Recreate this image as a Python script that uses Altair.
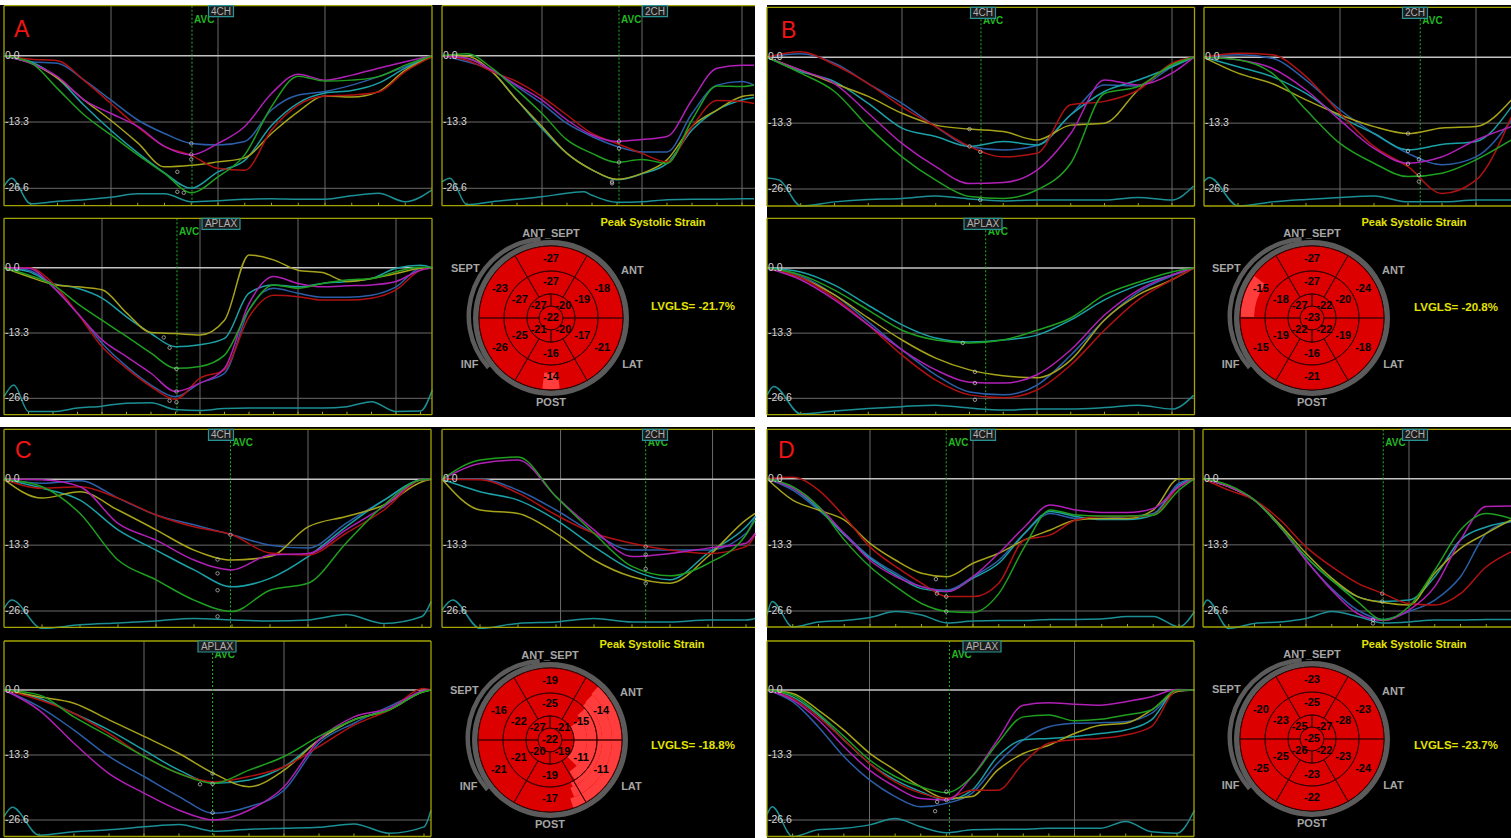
import math
import altair as alt
import pandas as pd

# ------------------------------------------------------------------ colours
CURVE_COLOURS = {
    "red": "#b01212",
    "green": "#1f9f1f",
    "magenta": "#b01fb6",
    "blue": "#2b5ea8",
    "teal": "#1aa0a6",
    "yellow": "#a6a31a",
}
CURVE_ORDER = ["blue", "teal", "yellow", "red", "magenta", "green"]
ECG_COLOUR = "#1b8f94"
FRAME_COLOUR = "#a5a400"
GRID_COLOUR = "#6a6a6a"
ZERO_COLOUR = "#c4c4c4"
LABEL_COLOUR = "#d4d4d4"
AVC_COLOUR = "#22b622"
BOX_EDGE = "#2a9494"
SEG_RED = "#dc0000"
SEG_LIGHT = "#ff3d3d"
SEG_LINE = "#3a0000"
RING_GREY = "#5b5b5b"
TITLE_YELLOW = "#e3e300"

Y_LEVELS = [0.0, -13.3, -26.6]
Y_LABELS = ["0.0", "-13.3", "-26.6"]

# ------------------------------------------------------------------ strain traces
# t is measured in grid divisions from the left edge of each trace window,
# strain values in %.
A4CH = {
    "t": [0, .25, .5, .75, 1, 1.25, 1.5, 1.75, 2, 2.25, 2.5, 2.75, 3, 3.25, 3.5, 3.75, 4],
    "red": [0, -0.7, -1.0, -5.0, -9.6, -14.3, -18.2, -20.0, -22.6, -23.0, -14.9, -9.9, -8.1, -7.9, -7.3, -3.2, -0.2],
    "green": [0, -1.4, -6.6, -11.9, -15.9, -19.9, -23.6, -27.5, -24.3, -19.9, -10.2, -4.1, -5.1, -4.9, -4.2, -1.9, 0],
    "teal": [0, -1.2, -4.5, -10.0, -15.0, -19.5, -23.5, -26.6, -23.3, -21.0, -14.0, -9.5, -7.5, -7.0, -5.5, -2.5, 0],
    "blue": [0, -1.2, -1.5, -4.9, -8.9, -12.9, -15.6, -17.6, -17.9, -17.2, -10.9, -7.9, -7.2, -5.9, -4.2, -2.2, 0],
    "magenta": [0, -1.5, -4.2, -8.9, -11.6, -14.2, -18.2, -19.9, -17.6, -14.2, -7.6, -3.7, -4.9, -3.9, -2.5, -1.2, 0],
    "yellow": [0, -1.5, -4.5, -8.9, -13.0, -17.5, -22.3, -22.0, -21.3, -20.5, -15.6, -11.2, -8.1, -8.3, -7.2, -2.9, -0.2],
    "ecg_t": [0, .07, .25, .5, .75, 1, 1.25, 1.5, 1.75, 2, 2.25, 2.5, 2.75, 3, 3.25, 3.5, 3.75, 4],
    "ecg": [-26.2, -24.6, -29.7, -29.2, -28.9, -28.4, -27.7, -27.7, -29.3, -29.1, -28.8, -28.7, -28.8, -28.8, -28.1, -27.6, -29.3, -26.9],
    "es_t": [1.75, 1.75, 1.75, 1.62, 1.62, 1.68],
    "es_s": [-17.6, -19.8, -20.8, -23.3, -27.3, -27.5],
}
A2CH = {
    "t": [0, .25, .5, .75, 1, 1.25, 1.5, 1.75, 2, 2.25, 2.5, 2.75, 3, 3.12],
    "red": [0, -0.9, -3.2, -5.2, -8.2, -11.9, -15.6, -17.6, -19.6, -21.3, -14.2, -9.0, -9.2, -9.6],
    "green": [0, 0.4, -2.5, -6.9, -11.6, -16.9, -19.6, -21.4, -20.8, -21.6, -12.9, -6.1, -6.2, -5.9],
    "teal": [0, -0.5, -3.2, -8.9, -14.6, -19.6, -22.9, -24.9, -23.7, -21.6, -14.9, -10.9, -8.9, -8.4],
    "blue": [0, -1.2, -2.9, -6.2, -9.6, -13.6, -16.2, -18.2, -19.3, -19.3, -11.6, -5.9, -5.2, -5.9],
    "magenta": [0, -0.5, -2.9, -5.9, -8.9, -12.9, -15.9, -17.2, -16.8, -16.2, -8.9, -2.5, -1.9, -1.9],
    "yellow": [0, -0.1, -3.2, -8.9, -14.2, -19.6, -22.9, -24.8, -23.6, -20.9, -14.2, -10.9, -8.2, -7.9],
    "ecg_t": [0, .08, .25, .5, .75, 1, 1.25, 1.42, 1.5, 1.75, 2, 2.25, 2.5, 2.75, 3, 3.12],
    "ecg": [-25.3, -24.6, -29.9, -29.3, -28.8, -28.3, -27.6, -27.3, -28.0, -29.4, -29.3, -28.9, -28.8, -28.8, -28.7, -28.7],
    "es_t": [1.77, 1.77, 1.77, 1.70, 1.70],
    "es_s": [-17.2, -18.6, -21.4, -25.3, -25.6],
}
AAPLAX = {
    "t": [0, .25, .5, .75, 1, 1.25, 1.5, 1.75, 2, 2.25, 2.5, 2.75, 3, 3.25, 3.5, 3.75, 4, 4.25, 4.37],
    "yellow": [0, -1.8, -3.4, -3.9, -4.5, -9.2, -13.2, -13.4, -13.7, -10.7, 2.6, 1.6, -0.5, -1.0, -2.8, -2.2, -1.2, -0.1, 0],
    "teal": [0, -0.8, -3.2, -4.2, -6.2, -10.0, -13.4, -16.1, -15.7, -14.4, -5.2, -3.5, -3.9, -3.2, -2.8, -2.2, -0.1, 0.5, 0],
    "green": [0, -1.5, -3.5, -7.3, -10.7, -14.0, -17.4, -20.5, -20.1, -17.8, -8.6, -3.5, -4.2, -3.2, -2.5, -2.2, -0.8, 0.1, 0],
    "magenta": [0, -0.1, -3.9, -9.3, -14.7, -18.1, -21.5, -25.2, -23.5, -20.5, -7.3, -1.8, -3.2, -3.9, -3.7, -3.5, -2.8, -0.5, 0],
    "red": [0, 0, -3.2, -9.3, -16.1, -20.5, -24.2, -26.8, -22.5, -20.8, -10.0, -5.6, -5.9, -6.6, -6.6, -6.2, -4.5, -0.5, 0],
    "blue": [0, -0.5, -3.9, -9.3, -15.4, -20.1, -23.9, -26.3, -23.5, -21.5, -8.6, -4.2, -5.2, -6.0, -6.0, -5.6, -3.9, -0.1, 0],
    "ecg_t": [0, .1, .25, .5, .75, 1, 1.25, 1.5, 1.75, 2, 2.25, 2.5, 2.75, 3, 3.25, 3.5, 3.75, 4, 4.25, 4.37],
    "ecg": [-26.3, -23.9, -29.3, -29.3, -28.6, -28.2, -27.6, -27.5, -28.9, -29.1, -28.7, -28.6, -28.6, -28.6, -28.6, -28.3, -27.3, -29.3, -29.2, -24.9],
    "es_t": [1.63, 1.69, 1.76, 1.76, 1.69, 1.76],
    "es_s": [-14.2, -16.3, -20.6, -25.2, -27.1, -27.4],
}
B4CH = {
    "t": [0, .25, .5, .75, 1, 1.25, 1.5, 1.75, 2, 2.25, 2.5, 2.75, 3, 3.16],
    "red": [0, 1.1, -1.5, -5.3, -10.0, -14.0, -18.0, -20.1, -19.4, -9.6, -8.9, -6.6, -1.2, 0],
    "blue": [0, 0.7, -1.2, -5.3, -9.3, -14.0, -18.0, -18.7, -17.8, -11.6, -5.6, -5.8, -1.9, 0],
    "yellow": [0, -2.6, -5.3, -7.9, -11.3, -13.7, -14.5, -15.0, -16.7, -13.7, -13.3, -6.6, -1.5, 0],
    "teal": [0, -2.9, -4.9, -9.3, -14.3, -16.0, -18.0, -17.0, -17.7, -11.6, -6.9, -4.6, -1.9, 0],
    "magenta": [0, -2.6, -5.3, -11.3, -17.4, -22.1, -25.5, -25.3, -22.8, -15.4, -4.6, -5.6, -3.2, 0],
    "green": [0, -3.2, -6.9, -14.0, -20.1, -24.8, -28.1, -28.5, -26.8, -21.4, -7.3, -5.9, -1.5, 0],
    "ecg_t": [0, .09, .25, .5, .75, 1, 1.25, 1.5, 1.75, 2, 2.25, 2.5, 2.75, 3, 3.16],
    "ecg": [-24.4, -24.8, -30.0, -29.2, -28.7, -28.5, -28.0, -28.6, -29.0, -28.8, -28.8, -28.8, -28.3, -28.8, -26.0],
    "es_t": [1.50, 1.50, 1.58, 1.58],
    "es_s": [-14.5, -18.0, -19.1, -28.8],
}
B2CH = {
    "t": [0, .25, .5, .75, 1, 1.25, 1.5, 1.75, 2, 2.26],
    "red": [0, 0.8, 0.5, -3.9, -11.3, -18.0, -22.1, -27.5, -24.8, -12.0],
    "blue": [0, 0.5, -0.2, -4.6, -10.6, -15.4, -19.4, -21.7, -20.1, -12.7],
    "magenta": [0, -0.5, -2.2, -6.6, -12.7, -18.4, -21.4, -20.1, -16.7, -14.0],
    "teal": [0, -1.9, -3.9, -7.3, -12.0, -15.4, -18.7, -17.6, -17.0, -10.0],
    "yellow": [0, -3.2, -5.3, -8.6, -11.6, -14.0, -15.4, -14.3, -14.0, -8.6],
    "green": [0, -0.5, -3.2, -10.6, -17.4, -21.4, -24.1, -23.4, -20.7, -16.7],
    "ecg_t": [0, .04, .25, .5, .75, 1, 1.25, 1.5, 1.75, 2, 2.26],
    "ecg": [-25.1, -24.3, -30.0, -29.2, -28.7, -28.3, -28.0, -29.2, -29.2, -28.8, -28.8],
    "es_t": [1.5, 1.5, 1.58, 1.5, 1.58, 1.58],
    "es_s": [-15.4, -18.9, -20.6, -21.5, -23.8, -25.1],
}
BAPLAX = {
    "t": [0, .25, .5, .75, 1, 1.25, 1.5, 1.75, 2, 2.25, 2.5, 2.75, 3, 3.16],
    "teal": [0, -0.8, -3.5, -7.6, -11.6, -14.3, -15.1, -14.7, -13.7, -10.6, -6.5, -3.5, -1.4, 0],
    "green": [0, -1.4, -4.5, -8.6, -12.7, -14.7, -15.3, -14.7, -12.7, -10.2, -5.5, -2.9, -0.8, 0],
    "yellow": [0, -2.0, -5.5, -10.2, -14.7, -18.4, -20.8, -22.0, -22.4, -18.8, -10.6, -5.5, -2.4, 0],
    "magenta": [0, -2.4, -6.5, -11.6, -16.7, -20.8, -23.3, -23.5, -21.8, -16.7, -9.6, -4.5, -1.4, 0],
    "red": [0, -2.0, -6.1, -11.6, -17.8, -22.9, -25.9, -26.5, -24.9, -19.8, -12.7, -6.5, -2.4, 0],
    "blue": [0, -1.6, -5.5, -11.0, -16.7, -21.8, -25.3, -25.9, -23.9, -17.8, -10.6, -4.9, -1.6, 0],
    "ecg_t": [0, .05, .25, .5, .75, 1, 1.25, 1.5, 1.75, 2, 2.25, 2.5, 2.75, 3, 3.16],
    "ecg": [-26.0, -24.2, -29.8, -29.2, -28.7, -28.3, -28.0, -28.6, -29.0, -28.8, -28.8, -28.5, -28.0, -28.8, -26.0],
    "es_t": [1.45, 1.54, 1.54, 1.54],
    "es_s": [-15.3, -21.2, -23.5, -26.9],
}
C4CH = {
    "t": [0, .25, .5, .75, 1, 1.25, 1.5, 1.75, 2, 2.25, 2.5, 2.75, 2.81],
    "blue": [0, -0.8, -0.3, -3.8, -7.2, -9.2, -11.2, -13.3, -13.9, -8.9, -4.2, -0.1, 0],
    "red": [0, -1.8, -1.5, -3.8, -7.2, -9.6, -11.2, -14.9, -15.3, -10.9, -6.2, -0.1, 0],
    "magenta": [0, -0.1, -1.5, -8.9, -12.3, -16.3, -18.3, -15.3, -15.0, -10.2, -5.5, -0.1, 0],
    "yellow": [0, -3.8, -2.5, -6.2, -10.2, -14.3, -16.3, -15.6, -9.6, -7.5, -5.2, -0.5, 0],
    "teal": [0, -1.8, -4.2, -10.2, -14.3, -18.3, -21.7, -20.0, -15.6, -9.6, -4.2, -0.1, 0],
    "green": [0, -1.5, -6.9, -16.3, -20.3, -24.4, -26.7, -22.4, -21.0, -12.9, -5.2, -0.1, 0],
    "ecg_t": [0, .05, .25, .5, .75, 1, 1.25, 1.5, 1.75, 2, 2.25, 2.5, 2.75, 2.81],
    "ecg": [-26.1, -24.4, -30.1, -29.4, -29.0, -28.6, -28.1, -28.4, -28.6, -28.4, -27.3, -29.1, -27.7, -24.7],
    "es_t": [1.49, 1.405, 1.405, 1.405, 1.405],
    "es_s": [-11.2, -16.2, -19.0, -22.4, -27.7],
}
C2CH = {
    "t": [0, .25, .5, .75, 1, 1.25, 1.5, 1.75, 2, 2.06],
    "green": [0, 3.9, 4.5, -3.5, -10.9, -17.6, -19.5, -17.0, -11.2, -8.2],
    "magenta": [0, 3.2, 3.9, -3.5, -10.2, -15.6, -15.0, -13.9, -12.9, -10.9],
    "red": [0, -0.1, -2.8, -7.2, -10.9, -12.9, -14.3, -15.0, -13.6, -11.2],
    "blue": [0, 0, -2.2, -6.2, -10.9, -14.3, -14.3, -14.3, -10.9, -7.5],
    "teal": [0, -2.5, -4.2, -8.2, -13.6, -18.3, -20.3, -14.9, -9.6, -7.5],
    "yellow": [0, -6.2, -6.9, -10.9, -16.3, -19.7, -21.0, -15.6, -8.2, -6.9],
    "ecg_t": [0, .07, .25, .5, .75, 1, 1.25, 1.5, 1.75, 2, 2.06],
    "ecg": [-26.4, -24.4, -30.1, -29.1, -28.8, -28.1, -28.8, -28.8, -28.4, -28.4, -28.1],
    "es_t": [1.34, 1.34, 1.34, 1.34],
    "es_s": [-13.6, -15.2, -18.1, -21.0],
}
CAPLAX = {
    "t": [0, .25, .5, .75, 1, 1.25, 1.5, 1.75, 2, 2.25, 2.5, 2.75, 3, 3.05],
    "yellow": [0, -1.4, -2.7, -6.1, -9.5, -13.0, -17.1, -19.8, -16.4, -10.2, -6.1, -4.1, -0.3, 0],
    "green": [0, -1.0, -5.5, -9.5, -13.6, -17.1, -19.1, -16.4, -13.6, -9.5, -6.1, -4.1, -0.3, 0],
    "teal": [0, -1.7, -4.8, -8.2, -12.3, -16.4, -19.1, -18.4, -15.7, -10.2, -6.1, -4.1, -0.3, 0],
    "red": [0, -2.0, -4.8, -8.9, -13.6, -17.1, -18.8, -17.7, -15.7, -11.6, -7.2, -4.1, 0.3, 0],
    "blue": [0, -3.4, -8.2, -13.6, -17.7, -21.8, -25.2, -23.9, -20.5, -10.9, -6.8, -3.4, -0.3, 0],
    "magenta": [0, -4.1, -10.9, -17.1, -21.1, -24.6, -26.6, -24.6, -19.8, -10.2, -5.5, -3.8, -0.1, 0],
    "ecg_t": [0, .06, .25, .5, .75, 1, 1.25, 1.5, 1.75, 2, 2.25, 2.5, 2.75, 3, 3.05],
    "ecg": [-25.9, -24.0, -29.7, -29.0, -28.6, -28.0, -27.5, -28.9, -28.5, -28.3, -28.1, -27.4, -29.3, -28.0, -24.6],
    "es_t": [1.49, 1.40, 1.49, 1.49],
    "es_s": [-17.1, -19.3, -19.2, -25.1],
}
D4CH = {
    "t": [0, .25, .5, .75, 1, 1.25, 1.5, 1.75, 2, 2.25, 2.5, 2.75, 3, 3.25, 3.5, 3.75, 4, 4.15],
    "red": [0, 0.3, -2.3, -7.6, -13.7, -17.7, -21.0, -23.7, -23.7, -21.0, -12.3, -11.3, -8.3, -7.6, -7.6, -7.3, -1.6, 0],
    "green": [0, -1.6, -5.6, -12.3, -17.7, -21.7, -25.1, -26.7, -26.9, -23.1, -13.7, -6.3, -7.3, -7.5, -7.5, -7.3, -2.3, 0],
    "yellow": [0, -4.3, -6.3, -8.3, -13.0, -16.4, -19.0, -19.7, -17.0, -15.0, -12.3, -10.3, -8.3, -8.0, -8.0, -6.3, 0, 0],
    "blue": [0, -2.3, -6.3, -11.0, -15.7, -19.0, -21.7, -22.4, -19.7, -16.4, -11.0, -7.0, -8.0, -8.0, -7.6, -7.0, -0.9, 0],
    "magenta": [0, -1.9, -5.6, -11.0, -16.4, -19.7, -21.7, -22.7, -19.7, -15.0, -9.7, -5.3, -6.3, -6.8, -6.8, -6.0, -1.6, 0],
    "teal": [0, -1.9, -6.0, -11.3, -16.0, -19.4, -22.1, -22.7, -20.0, -17.0, -11.0, -6.6, -7.6, -8.2, -8.2, -7.3, -1.3, 0],
    "ecg_t": [0, .05, .25, .5, .75, 1, 1.25, 1.5, 1.75, 2, 2.25, 2.5, 2.75, 3, 3.25, 3.5, 3.75, 4, 4.15],
    "ecg": [-27.4, -24.7, -29.8, -28.8, -28.5, -27.9, -26.7, -27.4, -29.0, -28.6, -28.5, -28.5, -28.3, -28.3, -28.2, -27.7, -27.7, -29.8, -26.7],
    "es_t": [1.64, 1.65, 1.74, 1.74],
    "es_s": [-20.2, -23.1, -23.7, -26.7],
}
D2CH = {
    "t": [0, .25, .5, .75, 1, 1.25, 1.5, 1.75, 2, 2.25, 2.5, 2.75, 2.99],
    "red": [0, -2.3, -4.3, -8.3, -13.7, -17.7, -21.0, -23.1, -25.1, -25.4, -23.1, -17.7, -14.7],
    "green": [0, -1.3, -4.3, -9.7, -15.7, -20.4, -24.7, -28.4, -25.7, -18.4, -10.3, -7.0, -8.0],
    "magenta": [0, -1.6, -4.3, -9.7, -16.4, -22.4, -27.1, -28.5, -26.4, -21.7, -12.3, -5.6, -5.5],
    "blue": [0, -1.6, -4.3, -9.7, -16.4, -22.1, -26.4, -28.3, -26.7, -24.4, -19.7, -11.0, -8.6],
    "teal": [0, -1.6, -4.3, -9.7, -15.7, -20.4, -23.7, -24.7, -24.4, -19.7, -12.3, -9.7, -8.6],
    "yellow": [0, -1.6, -4.3, -9.3, -15.0, -20.0, -23.7, -24.9, -25.4, -19.0, -14.0, -11.0, -8.3],
    "ecg_t": [0, .04, .25, .5, .75, 1, 1.25, 1.5, 1.75, 2, 2.25, 2.5, 2.75, 2.99],
    "ecg": [-25.7, -24.4, -30.1, -29.1, -28.8, -28.1, -26.7, -27.7, -29.0, -28.8, -28.4, -28.4, -28.3, -28.3],
    "es_t": [1.74, 1.74, 1.65, 1.65],
    "es_s": [-23.1, -24.7, -28.4, -29.1],
}
DAPLAX = {
    "t": [0, .25, .5, .75, 1, 1.25, 1.5, 1.75, 2, 2.25, 2.5, 2.75, 3, 3.25, 3.5, 3.75, 4, 4.17],
    "yellow": [0, -0.7, -4.1, -8.2, -12.9, -16.4, -19.8, -22.2, -21.8, -16.4, -13.0, -11.3, -8.9, -7.2, -6.8, -4.1, -0.3, 0],
    "green": [0, -1.0, -4.8, -9.5, -14.3, -17.7, -19.8, -21.0, -17.7, -10.9, -5.5, -5.1, -6.3, -6.0, -5.1, -4.1, 0, 0],
    "magenta": [0, -2.0, -6.1, -11.6, -16.4, -19.8, -22.2, -22.5, -17.7, -10.2, -3.1, -2.6, -2.9, -3.1, -2.4, -1.4, 0.1, 0],
    "blue": [0, -2.4, -7.5, -13.6, -18.4, -21.8, -23.9, -23.2, -21.1, -15.0, -10.2, -7.5, -6.8, -6.7, -6.5, -4.8, -0.3, 0],
    "teal": [0, -1.4, -5.1, -10.2, -15.0, -18.4, -20.8, -22.5, -20.5, -13.6, -10.2, -9.9, -9.5, -8.9, -8.2, -6.1, -0.1, 0],
    "red": [0, -1.7, -5.5, -10.2, -15.0, -18.8, -21.1, -22.2, -20.5, -20.5, -15.0, -10.9, -10.2, -9.9, -9.2, -7.5, -0.1, 0],
    "ecg_t": [0, .05, .25, .5, .75, 1, 1.25, 1.5, 1.75, 2, 2.25, 2.5, 2.75, 3, 3.25, 3.5, 3.75, 4, 4.17],
    "ecg": [-25.5, -23.9, -30.0, -28.6, -28.3, -27.6, -26.3, -28.0, -29.2, -28.6, -28.5, -28.5, -28.3, -28.3, -28.3, -26.9, -29.0, -29.3, -24.6],
    "es_t": [1.75, 1.75, 1.66, 1.64],
    "es_s": [-20.8, -22.5, -22.9, -24.8],
}

# ------------------------------------------------------------------ bullseye values
# basal / mid rings run clockwise from ANT_SEPT; apical ring clockwise from upper right
BULL_A = {"basal": [-27, -18, -21, -14, -26, -23], "mid": [-27, -19, -17, -16, -25, -27],
          "apical": [-20, -20, -21, -27], "apex": -22, "gls": "-21.7"}
BULL_B = {"basal": [-27, -24, -18, -21, -15, -15], "mid": [-27, -20, -19, -16, -19, -18],
          "apical": [-22, -22, -22, -27], "apex": -23, "gls": "-20.8"}
BULL_C = {"basal": [-19, -14, -11, -17, -21, -16], "mid": [-25, -15, -11, -19, -21, -22],
          "apical": [-21, -19, -20, -27], "apex": -22, "gls": "-18.8"}
BULL_D = {"basal": [-23, -23, -24, -22, -25, -20], "mid": [-25, -28, -23, -23, -25, -23],
          "apical": [-27, -22, -26, -25], "apex": -25, "gls": "-23.7"}
WALL_NAMES = ["ANT_SEPT", "ANT", "LAT", "POST", "INF", "SEPT"]

# ------------------------------------------------------------------ page layout (pixels)
TRACE_GEOM = {
    "A4CH": dict(left=4, right=432, unit=107, top=5.7, bottom=205.7, y0=55.7, y26=188.3,
                 grid=[1, 2, 3], avc=1.757, box=221, label="4CH", right_edge=True),
    "A2CH": dict(left=442, right=755, unit=100, top=5.7, bottom=205.7, y0=55.7, y26=188.3,
                 grid=[1, 2, 3], avc=1.77, box=655, label="2CH", right_edge=False),
    "AAPLAX": dict(left=4, right=432, unit=98, top=218.3, bottom=414.7, y0=267.7, y26=398.3,
                   grid=[1, 2, 3, 4], avc=1.765, box=221, label="APLAX", right_edge=True),
    "B4CH": dict(left=767, right=1194.5, unit=135, top=7.3, bottom=206, y0=57.3, y26=189,
                 grid=[1, 2, 3], avc=1.585, box=983, label="4CH", right_edge=True),
    "B2CH": dict(left=1204, right=1511, unit=136, top=7.3, bottom=206, y0=57.3, y26=189,
                 grid=[1, 2], avc=1.59, box=1415, label="2CH", right_edge=False),
    "BAPLAX": dict(left=767, right=1194.5, unit=135, top=218.3, bottom=414.7, y0=268, y26=398.3,
                   grid=[1, 2, 3], avc=1.62, box=983, label="APLAX", right_edge=True),
    "C4CH": dict(left=4, right=431, unit=152, top=429.3, bottom=627.3, y0=479.3, y26=611,
                 grid=[1, 2], avc=1.49, box=221, label="4CH", right_edge=True),
    "C2CH": dict(left=442, right=755, unit=152, top=429.3, bottom=627.3, y0=479.3, y26=611,
                 grid=[0.78, 1.78], avc=1.34, box=655, label="2CH", right_edge=False),
    "CAPLAX": dict(left=4, right=431, unit=140, top=641, bottom=836.5, y0=690, y26=820,
                   grid=[1, 2], avc=1.49, box=217, label="APLAX", right_edge=True),
    "D4CH": dict(left=767, right=1194, unit=103, top=429.3, bottom=627, y0=478.7, y26=611,
                 grid=[1, 2, 3, 4], avc=1.74, box=983, label="4CH", right_edge=True),
    "D2CH": dict(left=1203, right=1511, unit=103, top=429.3, bottom=627, y0=478.7, y26=611,
                 grid=[1, 2], avc=1.75, box=1415, label="2CH", right_edge=False),
    "DAPLAX": dict(left=767, right=1194, unit=102.5, top=641, bottom=836.5, y0=690, y26=820,
                   grid=[1, 3], avc=1.78, box=982, label="APLAX", right_edge=True),
}
TRACES = {"A4CH": A4CH, "A2CH": A2CH, "AAPLAX": AAPLAX, "B4CH": B4CH, "B2CH": B2CH, "BAPLAX": BAPLAX,
          "C4CH": C4CH, "C2CH": C2CH, "CAPLAX": CAPLAX, "D4CH": D4CH, "D2CH": D2CH, "DAPLAX": DAPLAX}

PANELS = {
    "A": dict(x0=0, x1=755, y0=5, y1=417, cx=551, cy=318, title=(653, 223), gls=(693, 307), letter=(14, 37), bull=BULL_A),
    "B": dict(x0=767, x1=1511, y0=5, y1=417, cx=1312, cy=318, title=(1414, 223), gls=(1456, 308), letter=(781, 38), bull=BULL_B),
    "C": dict(x0=0, x1=755, y0=427, y1=838, cx=550, cy=740, title=(652, 645), gls=(693, 746), letter=(15, 458), bull=BULL_C),
    "D": dict(x0=767, x1=1511, y0=427, y1=838, cx=1312, cy=739, title=(1414, 645), gls=(1456, 746), letter=(778, 458), bull=BULL_D),
}
# paler patches inside the bullseye: (theta from, theta to, inner r, outer r)
PALE_PATCHES = {
    "A": [(173, 187, 55, 71)],
    "B": [(271, 306, 58, 71.5)],
    "C": [(42, 161, 62, 72), (43, 157, 52, 62), (44, 154, 47, 52), (48, 148, 37, 47), (57, 134, 24, 37)],
    "D": [],
}
WALL_LABEL_R = [84, 94, 94, 85, 94, 99]

ONE = pd.DataFrame({"k": [0]})
CURVE_SCALE = alt.Scale(domain=list(CURVE_COLOURS), range=list(CURVE_COLOURS.values()))
THETA = alt.Scale(domain=[0, 360], range=[0, 2 * math.pi])
RADIUS = alt.Scale(type="linear", domain=[0, 100], range=[0, 100], zero=True, nice=False)


def trace_chart(d, g):
    left, right, top, bottom = g["left"], g["right"], g["top"], g["bottom"]
    xs = alt.Scale(domain=[0, 1], range=[left, left + g["unit"]], nice=False, zero=False)
    ys = alt.Scale(domain=[-26.6, 0], range=[g["y26"], g["y0"]], nice=False, zero=False)

    def X(f):
        return alt.X(f"{f}:Q", scale=xs, axis=None)

    def Y(f):
        return alt.Y(f"{f}:Q", scale=ys, axis=None)

    def edge(x, x2, y, y2):
        return alt.Chart(ONE).mark_rule(color=FRAME_COLOUR, strokeWidth=1.3).encode(
            x=alt.value(x), x2=alt.value(x2), y=alt.value(y), y2=alt.value(y2))

    edges = [edge(left, right, top, top), edge(left, right, bottom, bottom), edge(left, left, top, bottom)]
    if g["right_edge"]:
        edges.append(edge(right, right, top, bottom))

    vgrid = alt.Chart(pd.DataFrame({"t": g["grid"]})).mark_rule(color=GRID_COLOUR, strokeWidth=1).encode(
        x=X("t"), y=alt.value(top), y2=alt.value(bottom))
    levels = pd.DataFrame({"s": Y_LEVELS, "lab": Y_LABELS})
    hgrid = alt.Chart(levels).mark_rule().encode(
        y=Y("s"), x=alt.value(left), x2=alt.value(right),
        color=alt.condition("datum.s == 0", alt.value(ZERO_COLOUR), alt.value(GRID_COLOUR)),
        strokeWidth=alt.condition("datum.s == 0", alt.value(1.6), alt.value(1.0)))
    ylabels = alt.Chart(levels).mark_text(align="left", baseline="middle", fontSize=10.5, color=LABEL_COLOUR).encode(
        x=alt.value(left + 1), y=Y("s"), text="lab:N")
    ticks = alt.Chart(pd.DataFrame({"t": d["t"][1:-1]})).mark_rule(color=FRAME_COLOUR, strokeWidth=1).encode(
        x=X("t"), y=alt.value(bottom - 3), y2=alt.value(bottom))

    avc = pd.DataFrame({"t": [g["avc"]]})
    avc_line = alt.Chart(avc).mark_rule(color=AVC_COLOUR, strokeDash=[2, 2], strokeWidth=1).encode(
        x=X("t"), y=alt.value(top), y2=alt.value(bottom))
    avc_text = alt.Chart(avc).mark_text(text="AVC", align="left", baseline="middle", dx=2, fontSize=10,
                                        fontWeight="bold", color=AVC_COLOUR).encode(
        x=X("t"), y=alt.value(top + 14))

    ecg = alt.Chart(pd.DataFrame({"t": d["ecg_t"], "s": d["ecg"]})).mark_line(
        color=ECG_COLOUR, strokeWidth=1.5, interpolate="monotone").encode(x=X("t"), y=Y("s"))

    rows = [(t, s, c) for c in CURVE_ORDER for t, s in zip(d["t"], d[c])]
    curves = alt.Chart(pd.DataFrame(rows, columns=["t", "s", "c"])).mark_line(
        strokeWidth=1.5, interpolate="monotone").encode(
        x=X("t"), y=Y("s"), color=alt.Color("c:N", scale=CURVE_SCALE, legend=None))

    es = alt.Chart(pd.DataFrame({"t": d["es_t"], "s": d["es_s"]})).mark_point(
        shape="circle", size=12, filled=False, color="#d6d6d6", strokeWidth=1).encode(x=X("t"), y=Y("s"))

    w = 38 if g["label"] == "APLAX" else 25
    box = alt.Chart(ONE).mark_rect(fill="#1c1c1c", stroke=BOX_EDGE, strokeWidth=1.2).encode(
        x=alt.value(g["box"] - w / 2), x2=alt.value(g["box"] + w / 2), y=alt.value(top), y2=alt.value(top + 11))
    box_text = alt.Chart(ONE).mark_text(text=g["label"], fontSize=10, color="#b2b2b2", baseline="middle").encode(
        x=alt.value(g["box"]), y=alt.value(top + 6))

    return alt.layer(vgrid, hgrid, ticks, avc_line, ecg, curves, es, ylabels, avc_text,
                     *edges, box, box_text)


def arc_layer(df, cx, cy, **mark):
    return alt.Chart(df).mark_arc(**mark).encode(
        theta=alt.Theta("a0:Q", scale=THETA, stack=False),
        theta2="a1:Q",
        radius=alt.Radius("r1:Q", scale=RADIUS),
        radius2="r0:Q",
        x=alt.value(cx), y=alt.value(cy))


def bullseye_layers(key, p):
    v = p["bull"]
    cx, cy = p["cx"], p["cy"]
    rows = []
    for i, val in enumerate(v["basal"]):
        rows.append(dict(a0=60 * i - 30, a1=60 * i + 30, r0=47, r1=72, ac=60 * i, rt=59, lab=str(val)))
    for i, val in enumerate(v["mid"]):
        rows.append(dict(a0=60 * i - 30, a1=60 * i + 30, r0=24, r1=47, ac=60 * i, rt=36, lab=str(val)))
    for i, val in enumerate(v["apical"]):
        c = 45 + 90 * i
        rows.append(dict(a0=c - 45, a1=c + 45, r0=12, r1=24, ac=c, rt=17.5, lab=str(val)))
    rows.append(dict(a0=0, a1=360, r0=0, r1=12, ac=0, rt=0, lab=str(v["apex"])))
    seg = pd.DataFrame(rows)

    ring = pd.DataFrame([dict(a0=0, a1=360, r0=72.5, r1=78)])
    outer = pd.DataFrame([dict(a0=228, a1=356, r0=75, r1=79.5)])
    layers = [
        arc_layer(ring, cx, cy, fill=RING_GREY),
        arc_layer(outer, cx - 5, cy - 2, fill=RING_GREY),
        arc_layer(seg, cx, cy, fill=SEG_RED),
    ]
    if PALE_PATCHES[key]:
        pale = pd.DataFrame(PALE_PATCHES[key], columns=["a0", "a1", "r0", "r1"])
        layers.append(arc_layer(pale, cx, cy, fill=SEG_LIGHT))
    layers.append(arc_layer(seg, cx, cy, fillOpacity=0, stroke=SEG_LINE, strokeWidth=0.9))
    layers.append(alt.Chart(seg).mark_text(fontSize=11, fontWeight="bold", color="black").encode(
        theta=alt.Theta("ac:Q", scale=THETA), radius=alt.Radius("rt:Q", scale=RADIUS),
        text="lab:N", x=alt.value(cx), y=alt.value(cy)))
    walls = pd.DataFrame({"name": WALL_NAMES, "ac": [0, 60, 120, 180, 240, 300], "rt": WALL_LABEL_R})
    layers.append(alt.Chart(walls).mark_text(fontSize=11, fontWeight="bold", color="#a6a6a6").encode(
        theta=alt.Theta("ac:Q", scale=THETA), radius=alt.Radius("rt:Q", scale=RADIUS),
        text="name:N", x=alt.value(cx), y=alt.value(cy)))
    tx, ty = p["title"]
    layers.append(alt.Chart(ONE).mark_text(text="Peak Systolic Strain", fontSize=11, fontWeight="bold",
                                           color=TITLE_YELLOW, baseline="middle").encode(
        x=alt.value(tx), y=alt.value(ty)))
    gx, gy = p["gls"]
    layers.append(alt.Chart(ONE).mark_text(text=f"LVGLS= {v['gls']}%", fontSize=11.5, fontWeight="bold",
                                           color=TITLE_YELLOW, baseline="middle").encode(
        x=alt.value(gx), y=alt.value(gy)))
    return layers


layers = []
for key, p in PANELS.items():
    layers.append(alt.Chart(ONE).mark_rect(fill="black").encode(
        x=alt.value(p["x0"]), x2=alt.value(p["x1"]), y=alt.value(p["y0"]), y2=alt.value(p["y1"])))
for name, g in TRACE_GEOM.items():
    layers.append(trace_chart(TRACES[name], g))
for key, p in PANELS.items():
    layers.extend(bullseye_layers(key, p))
    lx, ly = p["letter"]
    layers.append(alt.Chart(ONE).mark_text(text=key, fontSize=23, color="#f01414", align="left",
                                           baseline="alphabetic").encode(x=alt.value(lx), y=alt.value(ly)))

chart = (
    alt.layer(*layers)
    .resolve_scale(x="independent", y="independent")
    .properties(width=1511, height=838, padding=0, autosize=alt.AutoSizeParams(type="none"),
                background="white")
    .configure(font="Liberation Sans")
    .configure_view(stroke=None)
)

chart.save("out.html", embed_options={"renderer": "svg", "actions": False})
